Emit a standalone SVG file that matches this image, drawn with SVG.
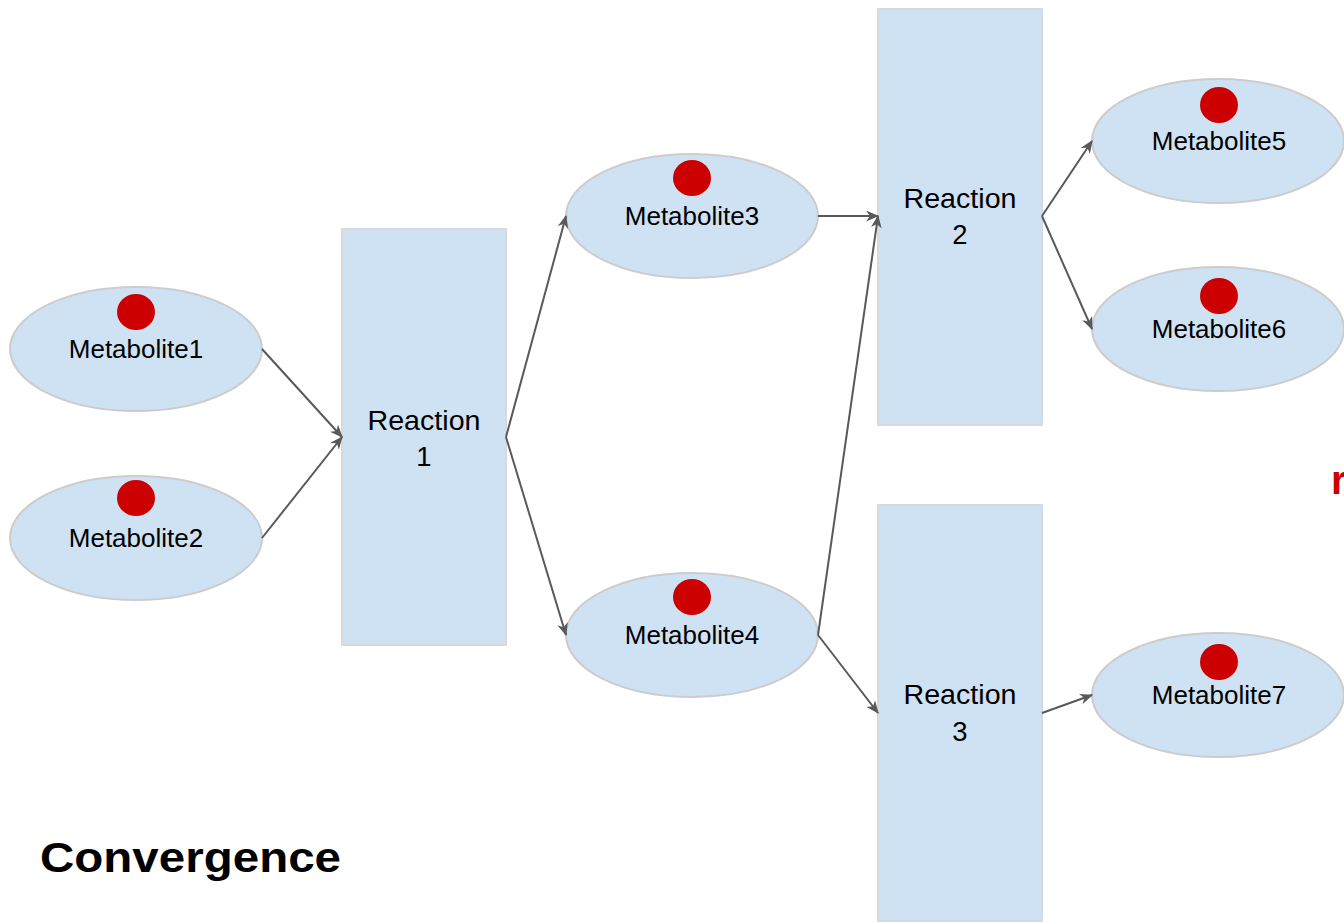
<svg xmlns="http://www.w3.org/2000/svg" width="1344" height="924" viewBox="0 0 1344 924">
<defs>
<style>
.met{fill:#cfe2f3;stroke:#cccccc;stroke-width:2}
.rx{fill:#cfe2f3;stroke:#d9d9d9;stroke-width:2}
.dot{fill:#cc0000}
.lbl{font-family:"Liberation Sans",Arial,sans-serif;font-size:26px;fill:#000;text-anchor:middle}
.rl{font-family:"Liberation Sans",Arial,sans-serif;font-size:27.5px;fill:#000;text-anchor:middle}
.c{fill:none;stroke:#595959;stroke-width:2;marker-end:url(#ah)}
</style>
<marker id="ah" viewBox="0 0 12 10" refX="11" refY="5" markerWidth="13" markerHeight="11" markerUnits="userSpaceOnUse" orient="auto">
<path d="M0,0 L12,5 L0,10 L3.5,5 Z" fill="#595959"/>
</marker>
</defs>
<rect width="1344" height="924" fill="#ffffff"/>
<g id="reaction1"><rect class="rx" x="342" y="229" width="164" height="416"/><text class="rl" x="424" y="430" textLength="113" lengthAdjust="spacingAndGlyphs">Reaction</text><text class="rl" x="424" y="466">1</text></g>
<g id="reaction2"><rect class="rx" x="878" y="9" width="164" height="416"/><text class="rl" x="960" y="208" textLength="113" lengthAdjust="spacingAndGlyphs">Reaction</text><text class="rl" x="960" y="244">2</text></g>
<g id="reaction3"><rect class="rx" x="878" y="505" width="164" height="416"/><text class="rl" x="960" y="704" textLength="113" lengthAdjust="spacingAndGlyphs">Reaction</text><text class="rl" x="960" y="741">3</text></g>
<g id="metabolite1"><ellipse class="met" cx="136" cy="349" rx="126" ry="62"/><ellipse class="dot" cx="136" cy="312" rx="19" ry="18"/><text class="lbl" x="136" y="358">Metabolite1</text></g>
<g id="metabolite2"><ellipse class="met" cx="136" cy="538" rx="126" ry="62"/><ellipse class="dot" cx="136" cy="498" rx="19" ry="18"/><text class="lbl" x="136" y="547">Metabolite2</text></g>
<g id="metabolite3"><ellipse class="met" cx="692" cy="216" rx="126" ry="62"/><ellipse class="dot" cx="692" cy="178" rx="19" ry="18"/><text class="lbl" x="692" y="225">Metabolite3</text></g>
<g id="metabolite4"><ellipse class="met" cx="692" cy="635" rx="126" ry="62"/><ellipse class="dot" cx="692" cy="597" rx="19" ry="18"/><text class="lbl" x="692" y="644">Metabolite4</text></g>
<g id="metabolite5"><ellipse class="met" cx="1218" cy="141" rx="126" ry="62"/><ellipse class="dot" cx="1219" cy="105" rx="19" ry="18"/><text class="lbl" x="1219" y="150">Metabolite5</text></g>
<g id="metabolite6"><ellipse class="met" cx="1218" cy="329" rx="126" ry="62"/><ellipse class="dot" cx="1219" cy="296" rx="19" ry="18"/><text class="lbl" x="1219" y="338">Metabolite6</text></g>
<g id="metabolite7"><ellipse class="met" cx="1218" cy="695" rx="126" ry="62"/><ellipse class="dot" cx="1219" cy="662" rx="19" ry="18"/><text class="lbl" x="1219" y="704">Metabolite7</text></g>
<g id="connectors">
<line class="c" x1="262" y1="349" x2="342" y2="437"/>
<line class="c" x1="262" y1="538" x2="342" y2="437"/>
<line class="c" x1="506" y1="437" x2="566" y2="216"/>
<line class="c" x1="506" y1="437" x2="566" y2="635"/>
<line class="c" x1="818" y1="216" x2="878" y2="216"/>
<line class="c" x1="818" y1="635" x2="878" y2="216"/>
<line class="c" x1="818" y1="635" x2="878" y2="713"/>
<line class="c" x1="1042" y1="216" x2="1092" y2="141"/>
<line class="c" x1="1042" y1="216" x2="1092" y2="329"/>
<line class="c" x1="1042" y1="713" x2="1092" y2="695"/>
</g>
<text x="40" y="872" font-family="'Liberation Sans',Arial,sans-serif" font-size="42" font-weight="bold" fill="#000" textLength="301" lengthAdjust="spacingAndGlyphs">Convergence</text>
<text x="1331" y="494" font-family="'Liberation Sans',Arial,sans-serif" font-size="40" font-weight="bold" fill="#cc0000">r</text>
</svg>
